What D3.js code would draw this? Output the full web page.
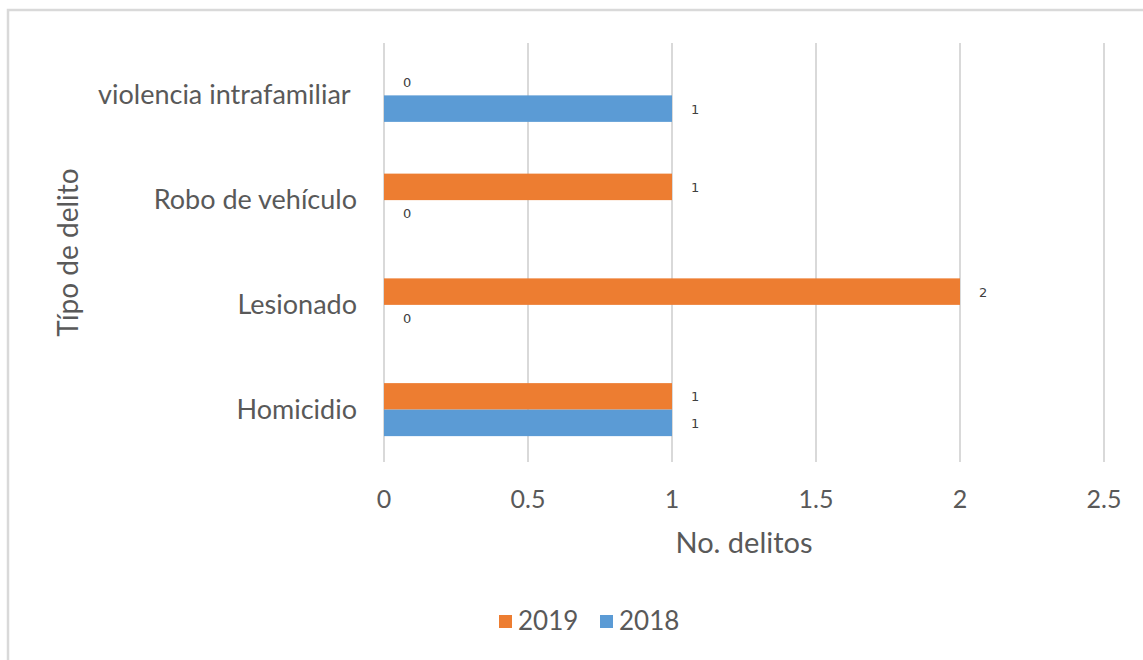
<!DOCTYPE html>
<html>
<head>
<meta charset="utf-8">
<script src="https://cdn.jsdelivr.net/npm/d3@7"></script>
<style>
  body { margin: 0; background: #fff; }
  text { font-family: Lato, "Open Sans", sans-serif; white-space: pre; }
</style>
</head>
<body>
<div id="chart"></div>
<script>
// data
var categories = ['Homicidio', 'Lesionado', 'Robo de vehículo', 'violencia intrafamiliar '];
var seriesNames = ['2019', '2018'];
var values2019 = [1, 2, 1, 0];
var values2018 = [1, 0, 0, 1];
var xTicks = [0, 0.5, 1, 1.5, 2, 2.5];
var colors = ['#ED7D31', '#5B9BD5'];

var width = 1143, height = 660;
var margin = { left: 384, right: 39, top: 43, bottom: 198 };

var svg = d3.select('#chart').append('svg')
  .attr('width', width)
  .attr('height', height);

// outer frame of the chart area
svg.append('rect')
  .attr('x', 8).attr('y', 10)
  .attr('width', 1160).attr('height', 700)
  .attr('fill', 'none')
  .attr('stroke', '#d9d9d9')
  .attr('stroke-width', 2.5);

var x = d3.scaleLinear()
  .domain([0, 2.5])
  .range([margin.left, width - margin.right]);

// top category first in reverse
var y = d3.scaleBand()
  .domain(categories.slice().reverse())
  .range([margin.top, height - margin.bottom]);

var barH = 26.5;

// gridlines
svg.append('g')
  .selectAll('line')
  .data(xTicks)
  .enter()
  .append('line')
  .attr('x1', function (d) { return x(d); })
  .attr('x2', function (d) { return x(d); })
  .attr('y1', margin.top)
  .attr('y2', height - margin.bottom)
  .attr('stroke', '#d9d9d9')
  .attr('stroke-width', 2);

// tick labels
svg.append('g')
  .selectAll('text')
  .data(xTicks)
  .enter()
  .append('text')
  .attr('x', function (d) { return x(d); })
  .attr('y', 508)
  .attr('text-anchor', 'middle')
  .attr('fill', '#595959')
  .style('font-size', '25px')
  .text(function (d) { return d; });

// category labels
svg.append('g')
  .selectAll('text')
  .data(categories)
  .enter()
  .append('text')
  .attr('x', 357)
  .attr('y', function (d) { return y(d) + y.bandwidth() / 2 + 9; })
  .attr('text-anchor', 'end')
  .attr('fill', '#595959')
  .style('font-size', '27px')
  .text(function (d) { return d; });

// bars: 2019 on top, 2018 below
var rows = categories.map(function (c, i) {
  return { cat: c, vals: [values2019[i], values2018[i]] };
});

var groups = svg.append('g')
  .selectAll('g')
  .data(rows)
  .enter()
  .append('g')
  .attr('transform', function (d) {
    return 'translate(0,' + (y(d.cat) + y.bandwidth() / 2 - barH) + ')';
  });

groups.selectAll('rect')
  .data(function (d) { return d.vals; })
  .enter()
  .append('rect')
  .attr('x', x(0))
  .attr('y', function (d, i) { return i * barH; })
  .attr('width', function (d) { return x(d) - x(0); })
  .attr('height', barH)
  .attr('fill', function (d, i) { return colors[i]; });

groups.selectAll('text')
  .data(function (d) { return d.vals; })
  .enter()
  .append('text')
  .attr('x', function (d) { return x(d) + 19; })
  .attr('y', function (d, i) { return i * barH + barH / 2 + 5; })
  .attr('fill', '#404040')
  .style('font-family', '"DejaVu Sans", sans-serif')
  .style('font-size', '13px')
  .text(function (d) { return d; });

// axis titles
svg.append('text')
  .attr('x', x(1.25))
  .attr('y', 553)
  .attr('text-anchor', 'middle')
  .attr('fill', '#595959')
  .style('font-size', '29px')
  .text('No. delitos');

svg.append('text')
  .attr('transform', 'translate(78,' + (margin.top + (height - margin.bottom - margin.top) / 2) + ') rotate(-90)')
  .attr('text-anchor', 'middle')
  .attr('fill', '#595959')
  .style('font-size', '28px')
  .text('Típo de delito');

// legend
var legend = svg.append('g')
  .attr('transform', 'translate(499,621)');

var legItem = legend.selectAll('g')
  .data(seriesNames)
  .enter()
  .append('g')
  .attr('transform', function (d, i) { return 'translate(' + i * 101 + ',0)'; });

legItem.append('rect')
  .attr('x', 0).attr('y', -6)
  .attr('width', 13).attr('height', 13)
  .attr('fill', function (d, i) { return colors[i]; });

legItem.append('text')
  .attr('x', 19)
  .attr('y', 9)
  .attr('fill', '#595959')
  .style('font-size', '26px')
  .text(function (d) { return d; });
</script>
</body>
</html>
